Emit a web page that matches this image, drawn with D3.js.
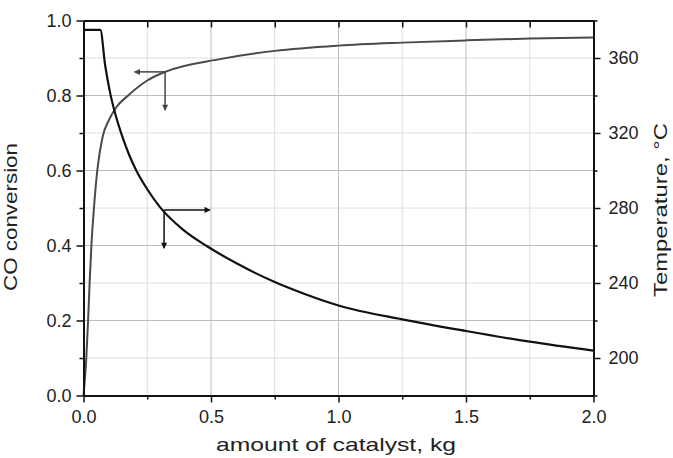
<!DOCTYPE html>
<html>
<head>
<meta charset="utf-8">
<script src="https://cdn.jsdelivr.net/npm/d3@7"></script>
<style>
  body { margin: 0; background: #fff; }
  svg text { font-family: "Liberation Sans", Arial, sans-serif; fill: #222; }
</style>
</head>
<body>
<svg id="canvas"></svg>
<script>
const WIDTH = 673;
const HEIGHT = 458;
const LEFT = 83.5;
const RIGHT = 593.5;
const TOP = 20.5;
const BOTTOM = 395.5;

// CO conversion vs catalyst mass
const kgConv = [0, 0.011, 0.018, 0.024, 0.031, 0.041, 0.054, 0.075, 0.1, 0.13, 0.175, 0.25, 0.32, 0.535, 0.75, 1.0, 1.25, 1.5, 1.75, 2.0];
const conversion = [0, 0.1, 0.2, 0.3, 0.4, 0.5, 0.6, 0.69, 0.735, 0.77, 0.8, 0.84, 0.863, 0.897, 0.919, 0.933, 0.941, 0.947, 0.952, 0.955];

// temperature vs catalyst mass
const kgTemp = [0, 0.066, 0.085, 0.105, 0.125, 0.15, 0.18, 0.207, 0.25, 0.3, 0.39, 0.48, 0.6, 0.75, 0.87, 1.0, 1.25, 1.5, 1.75, 2.0];
const temperature = [375, 375, 356, 341, 330, 319, 308, 300, 290, 280.5, 268.5, 260, 250.5, 240.5, 234, 228, 220.6, 214.4, 208.7, 203.9];

const xTicks = [0, 0.5, 1.0, 1.5, 2.0];
const xMinor = [0.25, 0.75, 1.25, 1.75];
const yTicks = [0, 0.2, 0.4, 0.6, 0.8, 1.0];
const yMinor = [0.1, 0.3, 0.5, 0.7, 0.9];
const tTicks = [200, 240, 280, 320, 360];
const tMinor = [180, 220, 260, 300, 340, 380];

// arrow annotations: start point, horizontal end (kg), vertical end (conversion scale)
const arrowStartKg = [0.32, 0.316];
const arrowStartY = [0.863, 0.495];
const arrowEndKg = [0.2, 0.496];
const arrowEndY = [0.761, 0.393];
const arrowColors = ["#444", "#111"];

const canvas = d3.select("#canvas").attr("width", WIDTH).attr("height", HEIGHT);

const xScale = d3.scaleLinear().domain([0, 2]).range([LEFT, RIGHT]);
const yScale = d3.scaleLinear().domain([0, 1]).range([BOTTOM, TOP]);
const tScale = d3.scaleLinear().domain([180, 380]).range([BOTTOM, TOP]);

// grid
const gridColor = "#bdbdbd";
canvas.append("g").selectAll("line").data(xTicks.slice(1, -1)).enter().append("line")
  .attr("x1", (d) => xScale(d)).attr("x2", (d) => xScale(d))
  .attr("y1", TOP).attr("y2", BOTTOM)
  .attr("stroke", gridColor).attr("stroke-width", 1);
canvas.append("g").selectAll("line").data(xMinor).enter().append("line")
  .attr("x1", (d) => xScale(d)).attr("x2", (d) => xScale(d))
  .attr("y1", TOP).attr("y2", BOTTOM)
  .attr("stroke", gridColor).attr("stroke-width", 1).attr("stroke-dasharray", "1,1");
canvas.append("g").selectAll("line").data(yTicks.slice(1, -1)).enter().append("line")
  .attr("x1", LEFT).attr("x2", RIGHT)
  .attr("y1", (d) => yScale(d)).attr("y2", (d) => yScale(d))
  .attr("stroke", gridColor).attr("stroke-width", 1);
canvas.append("g").selectAll("line").data(yMinor).enter().append("line")
  .attr("x1", LEFT).attr("x2", RIGHT)
  .attr("y1", (d) => yScale(d)).attr("y2", (d) => yScale(d))
  .attr("stroke", gridColor).attr("stroke-width", 1).attr("stroke-dasharray", "1,1");

// curves
const convLine = d3.line()
  .x((d, i) => xScale(kgConv[i]))
  .y((d) => yScale(d))
  .curve(d3.curveMonotoneX);
canvas.append("path").datum(conversion)
  .attr("d", convLine)
  .attr("fill", "none").attr("stroke", "#4a4a4a").attr("stroke-width", 2);

const tempLine = d3.line()
  .x((d, i) => xScale(kgTemp[i]))
  .y((d) => tScale(d))
  .curve(d3.curveMonotoneX);
canvas.append("path").datum(temperature)
  .attr("d", tempLine)
  .attr("fill", "none").attr("stroke", "#111").attr("stroke-width", 2.2);

// arrows
const defs = canvas.append("defs");
arrowColors.forEach((c, i) => {
  defs.append("marker")
    .attr("id", "head" + i)
    .attr("viewBox", "0 0 10 10")
    .attr("refX", 9).attr("refY", 5)
    .attr("markerWidth", 8).attr("markerHeight", 6)
    .attr("markerUnits", "userSpaceOnUse")
    .attr("orient", "auto")
    .append("path").attr("d", "M0,0L10,5L0,10Z").attr("fill", c);
});
arrowStartKg.forEach((kg, i) => {
  const g = canvas.append("g").attr("stroke", arrowColors[i]).attr("stroke-width", 1.5);
  g.append("line")
    .attr("x1", xScale(kg)).attr("y1", yScale(arrowStartY[i]))
    .attr("x2", xScale(arrowEndKg[i])).attr("y2", yScale(arrowStartY[i]))
    .attr("marker-end", `url(#head${i})`);
  g.append("line")
    .attr("x1", xScale(kg)).attr("y1", yScale(arrowStartY[i]))
    .attr("x2", xScale(kg)).attr("y2", yScale(arrowEndY[i]))
    .attr("marker-end", `url(#head${i})`);
});

// axes
const fontSize = 18;
const styleAxis = (g) => {
  g.select(".domain").attr("stroke", "#111").attr("stroke-width", 1.8);
  g.selectAll(".tick line").attr("stroke", "#111").attr("stroke-width", 1.5);
  g.selectAll("text").attr("font-size", fontSize).attr("fill", "#222")
    .attr("font-family", '"Liberation Sans", Arial, sans-serif');
};

const xAxis = d3.axisBottom(xScale).tickValues(xTicks).tickFormat(d3.format(".1f"))
  .tickSize(7).tickSizeOuter(0).tickPadding(8);
canvas.append("g").attr("transform", `translate(0, ${BOTTOM})`).call(xAxis).call(styleAxis);
canvas.append("g").attr("transform", `translate(0, ${BOTTOM})`)
  .call(d3.axisBottom(xScale).tickValues(xMinor).tickFormat("").tickSize(4).tickSizeOuter(0))
  .call(styleAxis);

const topAxis = d3.axisTop(xScale).tickValues(xTicks.concat(xMinor)).tickFormat("")
  .tickSize(-7).tickSizeOuter(0);
canvas.append("g").attr("transform", `translate(0, ${TOP})`).call(topAxis).call(styleAxis);

const yAxis = d3.axisLeft(yScale).tickValues(yTicks).tickFormat(d3.format(".1f"))
  .tickSize(7).tickSizeOuter(0).tickPadding(5);
canvas.append("g").attr("transform", `translate(${LEFT}, 0)`).call(yAxis).call(styleAxis);
canvas.append("g").attr("transform", `translate(${LEFT}, 0)`)
  .call(d3.axisLeft(yScale).tickValues(yMinor).tickFormat("").tickSize(4).tickSizeOuter(0))
  .call(styleAxis);

const tAxis = d3.axisRight(tScale).tickValues(tTicks).tickFormat(d3.format("d"))
  .tickSize(7).tickSizeOuter(0).tickPadding(8);
canvas.append("g").attr("transform", `translate(${RIGHT}, 0)`).call(tAxis).call(styleAxis);
canvas.append("g").attr("transform", `translate(${RIGHT}, 0)`)
  .call(d3.axisRight(tScale).tickValues(tMinor).tickFormat("").tickSize(4).tickSizeOuter(0))
  .call(styleAxis);

// axis titles
canvas.append("text")
  .attr("x", 336).attr("y", 451)
  .attr("text-anchor", "middle").attr("font-size", 19)
  .attr("textLength", 240).attr("lengthAdjust", "spacingAndGlyphs")
  .text("amount of catalyst, kg");

canvas.append("text")
  .attr("transform", `translate(17, 217) rotate(-90)`)
  .attr("text-anchor", "middle").attr("font-size", 19)
  .attr("textLength", 148).attr("lengthAdjust", "spacingAndGlyphs")
  .text("CO conversion");

canvas.append("text")
  .attr("transform", `translate(667, 210) rotate(-90)`)
  .attr("text-anchor", "middle").attr("font-size", 19)
  .attr("textLength", 174).attr("lengthAdjust", "spacingAndGlyphs")
  .text("Temperature, °C");
</script>
</body>
</html>
